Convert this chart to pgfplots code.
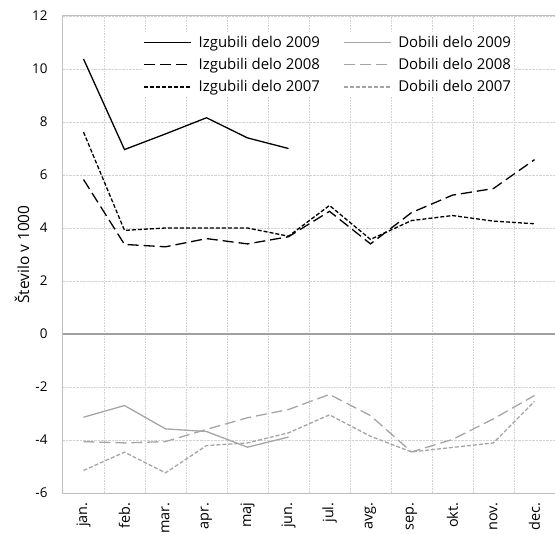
\documentclass[border=0pt]{standalone}
\usepackage{fontspec}
\setmainfont{Open Sans}
\usepackage{pgfplots}
\pgfplotsset{compat=1.18}
\definecolor{gline}{RGB}{165,165,165}
\definecolor{axgray}{RGB}{191,191,191}
\definecolor{gridgray}{RGB}{210,210,210}
\definecolor{zerogray}{RGB}{160,160,160}
\tikzset{
  longdash/.style={dash pattern=on 11bp off 5bp},
  shortdash/.style={dash pattern=on 4bp off 2bp},
}
\begin{document}
\begin{tikzpicture}
\begin{axis}[
  name=ax,
  scale only axis,
  width=492bp, height=477bp,
  xmin=-0.5, xmax=11.5,
  ymin=-6, ymax=12,
  ytick={-6,-4,...,12},
  xtick={0,...,11},
  xticklabels={jan.,feb.,mar.,apr.,maj,jun.,jul.,avg.,sep.,okt.,nov.,dec.},
  minor xtick={0.5,1.5,...,10.5},
  xminorgrids, ymajorgrids,
  grid style={densely dotted, color=gridgray, line width=0.6bp},
  minor grid style={densely dotted, color=gridgray, line width=0.6bp},
  axis line style={axgray, line width=1bp},
  major tick length=0pt, minor tick length=0pt,
  tick style={draw=none},
  /pgf/number format/assume math mode=true,
  x tick label style={rotate=90, anchor=east, font=\fontsize{14.5}{16}\selectfont},
  y tick label style={font=\fontsize{13.5}{16}\selectfont},
  xticklabel shift=6bp,
  yticklabel shift=12bp,
  ylabel={Število v 1000},
  ylabel style={font=\fontsize{15.5}{18}\selectfont, at={([xshift=-41bp]rel axis cs:0,0.5)}, anchor=center},
  legend columns=2,
  legend style={draw=none, fill=white, at={(rel axis cs:0.161,0.965)}, anchor=north west,
    font=\fontsize{15}{18}\selectfont, inner sep=1bp,
    /tikz/every even column/.append style={column sep=21bp},
    row sep=5.5bp},
  legend cell align=left,
  legend image code/.code={\draw[#1] (0bp,0bp) -- (47bp,0bp); \path (52bp,0bp);},
]
\addplot[forget plot, zerogray, line width=2bp] coordinates {(-0.5,0) (11.5,0)};
% Izgubili 2009
\addplot[black, line width=1.3bp] coordinates {(0,10.38) (1,6.96) (2,7.55) (3,8.16) (4,7.40) (5,7.00)};
\addlegendentry{Izgubili delo 2009}
% Dobili 2009
\addplot[gline, line width=1.3bp] coordinates {(0,-3.14) (1,-2.70) (2,-3.58) (3,-3.68) (4,-4.27) (5,-3.89)};
\addlegendentry{Dobili delo 2009}
% Izgubili 2008
\addplot[black, line width=1.3bp, longdash] coordinates {(0,5.83) (1,3.38) (2,3.29) (3,3.60) (4,3.40) (5,3.67) (6,4.63) (7,3.40) (8,4.58) (9,5.24) (10,5.49) (11,6.58)};
\addlegendentry{Izgubili delo 2008}
% Dobili 2008
\addplot[gline, line width=1.3bp, longdash] coordinates {(0,-4.06) (1,-4.11) (2,-4.06) (3,-3.60) (4,-3.16) (5,-2.85) (6,-2.28) (7,-3.08) (8,-4.45) (9,-3.98) (10,-3.20) (11,-2.32)};
\addlegendentry{Dobili delo 2008}
% Izgubili 2007
\addplot[black, line width=1.3bp, shortdash] coordinates {(0,7.62) (1,3.91) (2,4.00) (3,4.00) (4,4.00) (5,3.69) (6,4.85) (7,3.57) (8,4.28) (9,4.47) (10,4.26) (11,4.16)};
\addlegendentry{Izgubili delo 2007}
% Dobili 2007
\addplot[gline, line width=1.3bp, shortdash] coordinates {(0,-5.15) (1,-4.46) (2,-5.24) (3,-4.21) (4,-4.11) (5,-3.73) (6,-3.05) (7,-3.86) (8,-4.45) (9,-4.28) (10,-4.11) (11,-2.54)};
\addlegendentry{Dobili delo 2007}
\end{axis}
\pgfresetboundingbox
\path[use as bounding box] ([xshift=-63bp,yshift=-41bp]ax.south west) rectangle ([yshift=16bp]ax.north east);
\end{tikzpicture}
\end{document}
